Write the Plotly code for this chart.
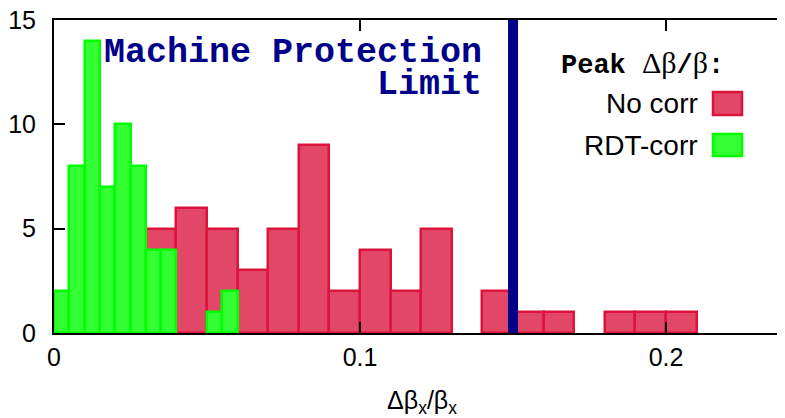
import plotly.graph_objects as go

# ---- data ----
red_bin_start = [0.03, 0.04, 0.05, 0.06, 0.07, 0.08, 0.09, 0.10, 0.11, 0.12,
                 0.14, 0.15, 0.16, 0.18, 0.19, 0.20]
red_counts = [5, 6, 5, 3, 5, 9, 2, 4, 2, 5, 2, 1, 1, 1, 1, 1]
red_bin_width = 0.01

green_bin_start = [0.0, 0.005, 0.01, 0.015, 0.02, 0.025, 0.03, 0.035, 0.05, 0.055]
green_counts = [2, 8, 14, 7, 10, 8, 4, 4, 1, 2]
green_bin_width = 0.005

limit_value = 0.15

x_ticks = [0, 0.1, 0.2]
x_tick_labels = ["0", "0.1", "0.2"]
y_ticks = [0, 5, 10, 15]
y_tick_labels = ["0", "5", "10", "15"]

# ---- layout geometry (pixels of the 785x418 window) ----
OFF = 8                      # default page body margin
W, H = 785, 418 - OFF        # right frame falls just past the window edge
ML, MR, MT, MB = 54 - OFF, 3, 20 - OFF, 85
PW = W - ML - MR
PH = H - MT - MB
PLOT_BOTTOM = 333


def px(xp):
    return (xp - 54) / PW


def py(yp):
    return (PLOT_BOTTOM - yp) / PH


RED_FILL = "rgb(227,71,104)"
RED_LINE = "#dc143c"
GREEN_FILL = "#33ff33"
GREEN_LINE = "#00ff00"
NAVY = "#000088"
SANS = "Liberation Sans, Arial, sans-serif"
MONO = "Liberation Mono, Courier New, monospace"

fig = go.Figure()
fig.add_trace(go.Bar(
    x=red_bin_start, y=red_counts, width=red_bin_width, offset=0,
    marker=dict(color=RED_FILL, line=dict(color=RED_LINE, width=2.5)),
    name="No corr", showlegend=False,
))
fig.add_trace(go.Bar(
    x=green_bin_start, y=green_counts, width=green_bin_width, offset=0,
    marker=dict(color=GREEN_FILL, line=dict(color=GREEN_LINE, width=2.5)),
    name="RDT-corr", showlegend=False,
))

fig.add_shape(type="line", xref="x", yref="paper", x0=limit_value, x1=limit_value,
              y0=0, y1=1, line=dict(color=NAVY, width=10), layer="above")

# legend swatches
fig.add_shape(type="rect", xref="paper", yref="paper",
              x0=px(713), x1=px(742), y0=py(115), y1=py(92),
              fillcolor=RED_FILL, line=dict(color=RED_LINE, width=2.5))
fig.add_shape(type="rect", xref="paper", yref="paper",
              x0=px(713), x1=px(742), y0=py(156), y1=py(134),
              fillcolor=GREEN_FILL, line=dict(color=GREEN_LINE, width=2.5))

peak_text = ("<b>Peak </b><span style='font-family:Liberation Serif, serif;font-size:30px'>Δβ</span>"
             "<b>/</b><span style='font-family:Liberation Serif, serif;font-size:30px'>β</span><b>:</b>")

ann = [
    dict(text="<b>Machine Protection</b>", x=px(484), y=py(53), xanchor="right",
         yanchor="middle", font=dict(family=MONO, size=35, color=NAVY)),
    dict(text="<b>Limit</b>", x=px(484), y=py(85), xanchor="right",
         yanchor="middle", font=dict(family=MONO, size=35, color=NAVY)),
    dict(text=peak_text, x=px(726), y=py(63), xanchor="right",
         yanchor="middle", font=dict(family=MONO, size=27, color="black")),
    dict(text="No corr", x=px(700), y=py(103), xanchor="right",
         yanchor="middle", font=dict(family=SANS, size=28, color="black")),
    dict(text="RDT-corr", x=px(700), y=py(145), xanchor="right",
         yanchor="middle", font=dict(family=SANS, size=28, color="black")),
]
for a in ann:
    a.update(xref="paper", yref="paper", showarrow=False)
fig.update_layout(annotations=ann)

axis_common = dict(showline=True, linecolor="black", linewidth=2, mirror="ticks",
                   ticks="inside", ticklen=11, tickwidth=1.5, tickcolor="black",
                   showgrid=False, zeroline=False, ticklabeloverflow="allow",
                   tickfont=dict(family=SANS, size=25, color="black"))
fig.update_xaxes(range=[0, 0.2405], tickvals=x_ticks, ticktext=x_tick_labels,
                 ticklabelstandoff=1,
                 title=dict(text="Δβ<sub>x</sub>/β<sub>x</sub>", standoff=32,
                            font=dict(family=SANS, size=25, color="black")),
                 **axis_common)
fig.update_yaxes(range=[0, 15], tickvals=y_ticks, ticktext=y_tick_labels,
                 ticklabelstandoff=11, **axis_common)

fig.update_layout(width=W, height=H, margin=dict(l=ML, r=MR, t=MT, b=MB, autoexpand=False),
                  barmode="overlay", bargap=0, plot_bgcolor="white",
                  paper_bgcolor="white", showlegend=False)

fig.write_html("out.html")
